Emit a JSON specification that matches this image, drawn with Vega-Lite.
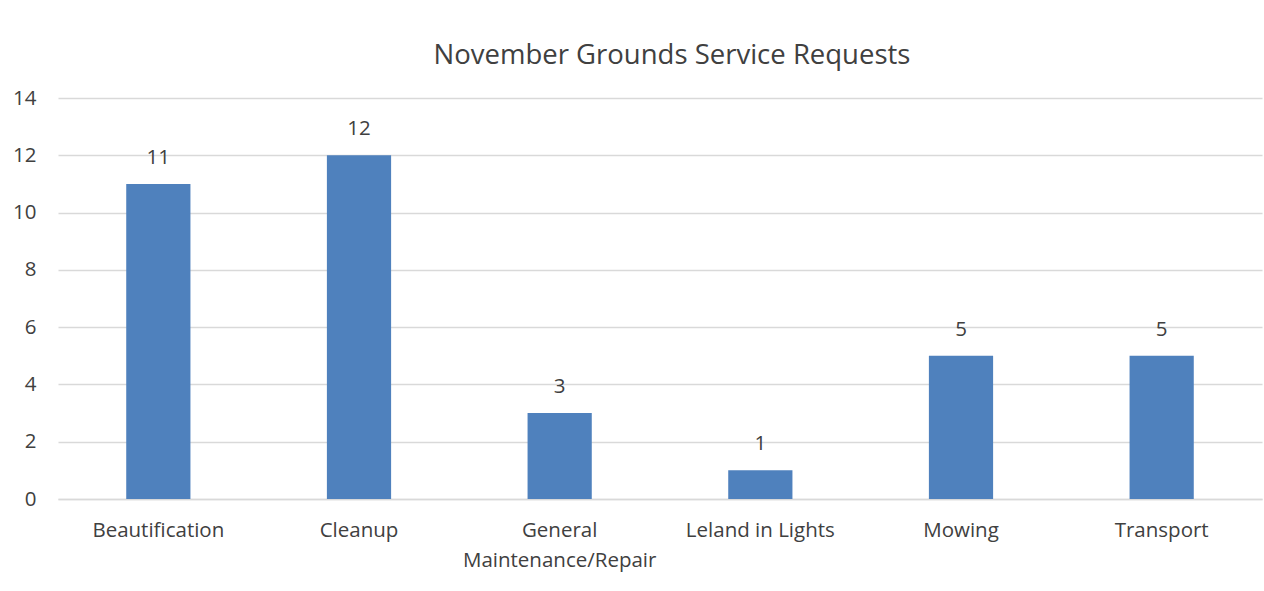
{
  "$schema": "https://vega.github.io/schema/vega-lite/v6.json",
  "autosize": "none",
  "width": 1204,
  "height": 401,
  "padding": {"left": 58, "top": 98, "right": 2, "bottom": 92},
  "background": "white",
  "title": {
    "text": "November Grounds Service Requests",
    "font": "Open Sans",
    "fontSize": 27.5,
    "fontWeight": "normal",
    "color": "#404040",
    "anchor": "middle",
    "offset": 19,
    "dx": 12
  },
  "data": {
    "values": [
      {"category": "Beautification", "count": 11},
      {"category": "Cleanup", "count": 12},
      {"category": "General\nMaintenance/Repair", "count": 3},
      {"category": "Leland in Lights", "count": 1},
      {"category": "Mowing", "count": 5},
      {"category": "Transport", "count": 5}
    ]
  },
  "encoding": {
    "x": {
      "field": "category",
      "type": "nominal",
      "sort": null,
      "scale": {"paddingInner": 0.68, "paddingOuter": 0.34},
      "axis": {
        "title": null,
        "labelAngle": 0,
        "labelFont": "Open Sans",
        "labelFontSize": 20.5,
        "labelColor": "#404040",
        "labelPadding": 21,
        "labelLineHeight": 30,
        "labelLimit": 400,
        "labelExpr": "split(datum.label, '\\n')",
        "ticks": false,
        "domainColor": "#d9d9d9",
        "domainWidth": 1.5,
        "grid": false
      }
    },
    "y": {
      "field": "count",
      "type": "quantitative",
      "scale": {"domain": [0, 14]},
      "axis": {
        "title": null,
        "values": [0, 2, 4, 6, 8, 10, 12, 14],
        "labelFont": "Open Sans",
        "labelFontSize": 20.5,
        "labelColor": "#404040",
        "labelPadding": 22,
        "ticks": false,
        "domain": false,
        "gridColor": "#d9d9d9",
        "gridWidth": 1.5
      }
    }
  },
  "layer": [
    {"mark": {"type": "bar", "color": "#4F81BD"}},
    {
      "mark": {"type": "text", "dy": -26, "font": "Open Sans", "fontSize": 20.5, "color": "#404040"},
      "encoding": {"text": {"field": "count", "type": "quantitative"}}
    }
  ],
  "config": {"view": {"stroke": null}}
}
